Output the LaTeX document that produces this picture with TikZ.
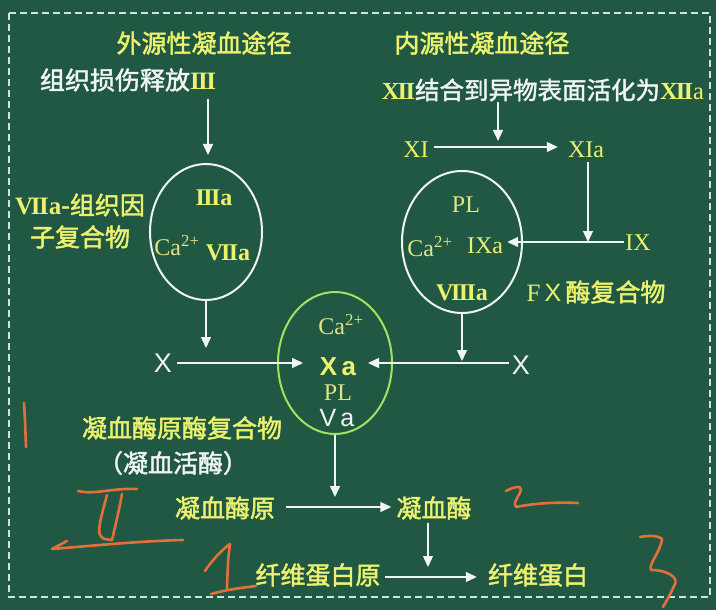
\documentclass[tikz,border=0pt]{standalone}
\usepackage{fontspec}
\setmainfont{Liberation Serif}
\setsansfont{Liberation Sans}
\newfontfamily\cjk[FakeBold=1.8]{Noto Sans CJK SC}
\usetikzlibrary{shapes.geometric,arrows.meta,calc}
\definecolor{bg}{RGB}{32,88,67}
\definecolor{ylw}{RGB}{236,242,110}
\definecolor{ylwm}{RGB}{226,228,132}
\definecolor{wht}{RGB}{240,245,242}
\definecolor{lime}{RGB}{165,225,95}
\definecolor{dashc}{RGB}{200,230,220}
\definecolor{orng}{RGB}{226,112,58}
\newcommand\cjkf{\cjk\fontsize{25}{32}\selectfont}
\newcommand\srff{\rmfamily\fontsize{24}{28}\selectfont}
\newcommand\srfb{\rmfamily\bfseries\fontsize{24}{28}\selectfont}
\newcommand\sfff{\sffamily\fontsize{27}{30}\selectfont}
\newcommand\sffb{\sffamily\bfseries\fontsize{26}{30}\selectfont}
\newcommand\rmIII{{\rmfamily\bfseries I\kern-1.6pt I\kern-1.6pt I}}
\newcommand\rmVII{{\rmfamily\bfseries V\kern-2.2pt I\kern-1.6pt I}}
\newcommand\rmVIII{{\rmfamily\bfseries V\kern-2.2pt I\kern-1.6pt I\kern-1.6pt I}}
\newcommand\rmXII{{\rmfamily\bfseries X\kern-2pt I\kern-1.6pt I}}
\begin{document}
\begin{tikzpicture}[x=1pt,y=-1pt,
  every node/.style={inner sep=1pt},
  cjy/.style={font=\cjkf, text=ylw},
  cjw/.style={font=\cjkf, text=wht},
  sry/.style={font=\srff, text=ylwm},
  srb/.style={font=\srfb, text=ylw},
  sfw/.style={font=\sfff, text=wht},
  ring/.style={ellipse, draw=wht, line width=2pt, inner sep=0pt},
  arr/.style={draw=wht, line width=1.4pt, -{Triangle[length=11pt,width=10pt]}},
  hand/.style={draw=orng, line width=2.6pt, line cap=round, line join=round}]
\useasboundingbox (0,0) rectangle (716,610);
\fill[bg] (0,0) rectangle (716,610);
\draw[dashc, line width=1.8pt, dash pattern=on 7pt off 4pt] (9,13) rectangle (710,597);

% extrinsic pathway
\node[cjy] (ext) at (204,43) {外源性凝血途径};
\node[cjw] (tis) at (128,80) {组织损伤释放\textcolor{ylw}{\rmIII}};
\node[ring, minimum width=112pt, minimum height=136pt] (E1) at (206,232) {};
\node[srb] (c3) at (214,198) {\rmIII a};
\node[sry] (ca1) at (177,246) {Ca\textsuperscript{2+}};
\node[srb] (c7) at (228,253) {\rmVII a};
\node[cjy, align=center] (lbl7) at (80,221) {\rmVII{\rmfamily\bfseries a}-组织因\\子复合物};
\node[sfw] (X1) at (163,363) {X};

% intrinsic pathway
\node[cjy] (int) at (482,43) {内源性凝血途径};
\node[cjw, font=\cjk\fontsize{24.5}{30}\selectfont] (xii) at (543,90) {\textcolor{ylw}{\rmXII}结合到异物表面活化为\textcolor{ylw}{\rmXII{\rmfamily a}}};
\node[sry, text=ylw] (XI) at (416,150) {XI};
\node[sry, text=ylw] (XIa) at (586,150) {XIa};
\node[sry, text=ylw] (IX) at (638,243) {IX};
\node[ring, minimum width=120pt, minimum height=142pt] (E2) at (462,242) {};
\node[sry] (pl2) at (466,205) {PL};
\node[sry] (ca2) at (430,247) {Ca\textsuperscript{2+}};
\node[sry, text=ylw] (c9) at (485,246) {IXa};
\node[srb] (c8) at (462,293) {\rmVIII a};
\node[cjy] (fx) at (596,292) {{\rmfamily F}\,{\sffamily X}\,酶复合物};
\node[sfw] (X2) at (521,365) {X};

% common pathway
\node[ring, draw=lime, minimum width=114pt, minimum height=142pt] (E3) at (335,363) {};
\node[sry] (ca3) at (341,325) {Ca\textsuperscript{2+}};
\node[font=\sffb, text=ylw] (Xa) at (338,367) {X\,a};
\node[sry] (pl3) at (338,393) {PL};
\node[sfw, font=\sffamily\fontsize{25}{28}\selectfont] (Va) at (337,418) {V\,a};
\coordinate (XaL) at (303,363);
\coordinate (XaR) at (368,363);

\node[cjy] (pc) at (182,428) {凝血酶原酶复合物};
\node[cjw] (tp) at (173,463) {（凝血活酶）};
\node[cjy] (pro) at (225,508) {凝血酶原};
\node[cjy] (thr) at (434,508) {凝血酶};
\node[cjy] (fgn) at (318,575) {纤维蛋白原};
\node[cjy] (fib) at (538,575) {纤维蛋白};

% connectors
\draw[arr] ($(tis.south -| E1.north)+(2,6)$) -- ($(E1.north)+(2,-8)$);
\draw[arr] (E1.south) -- ($(E1.south |- X1)+(0,-15)$);
\draw[arr] ($(X1.east)+(4,0)$) -- (XaL);

\coordinate (xiiA) at (498,102);
\draw[arr] (xiiA) -- (xiiA |- XI.north);
\draw[arr] ($(XI.east)+(4,-3)$) -- ($(XIa.west)+(-9,-3)$);
\coordinate (jn) at (588,242);
\draw[arr] ($(XIa.south)+(2,3)$) -- (jn);
\draw[arr] (IX.west |- jn) -- ($(c9.east |- jn)+(3,0)$);
\draw[arr] (E2.south) -- ($(E2.south |- X2)+(0,-4)$);
\draw[arr] ($(X2.west)+(-2,-2)$) -- (XaR);

\draw[arr] (E3.south) -- ($(E3.south |- pro)+(0,-11)$);
\draw[arr] ($(pro.east)+(10,-1)$) -- ($(thr.west)+(-4,-1)$);
\draw[arr] ($(thr.south)+(-6,2)$) -- ($(thr.south |- fgn)+(-6,-8)$);
\draw[arr] ($(fgn.east)+(3,2)$) -- ($(fib.west)+(-10,2)$);

% handwritten marks
\draw[hand] (24,403) .. controls (25,420) .. (26,447);
\draw[hand] (78,491) .. controls (95,495) and (110,488) .. (137,489);
\draw[hand] (107,495) .. controls (103,510) and (97,530) .. (100,535) .. controls (103,539) .. (112,540);
\draw[hand] (122,494) .. controls (119,510) .. (112,540);
\draw[hand] (67,541) -- (52,549) .. controls (90,546) and (140,541) .. (183,540);
\draw[hand] (205,571) .. controls (212,560) and (224,548) .. (230,544) .. controls (228,560) .. (227,588);
\draw[hand] (211,594) .. controls (225,590) and (240,588) .. (256,586);
\draw[hand] (506,491) .. controls (513,487) and (522,485) .. (521,490) .. controls (519,496) and (512,504) .. (516,507) .. controls (535,503) and (560,502) .. (578,503);
\draw[hand] (640,537) .. controls (650,535) and (662,536) .. (662,540) .. controls (660,552) and (648,565) .. (651,570) .. controls (668,570) and (680,578) .. (674,586) .. controls (670,595) and (666,602) .. (663,607);
\end{tikzpicture}
\end{document}
